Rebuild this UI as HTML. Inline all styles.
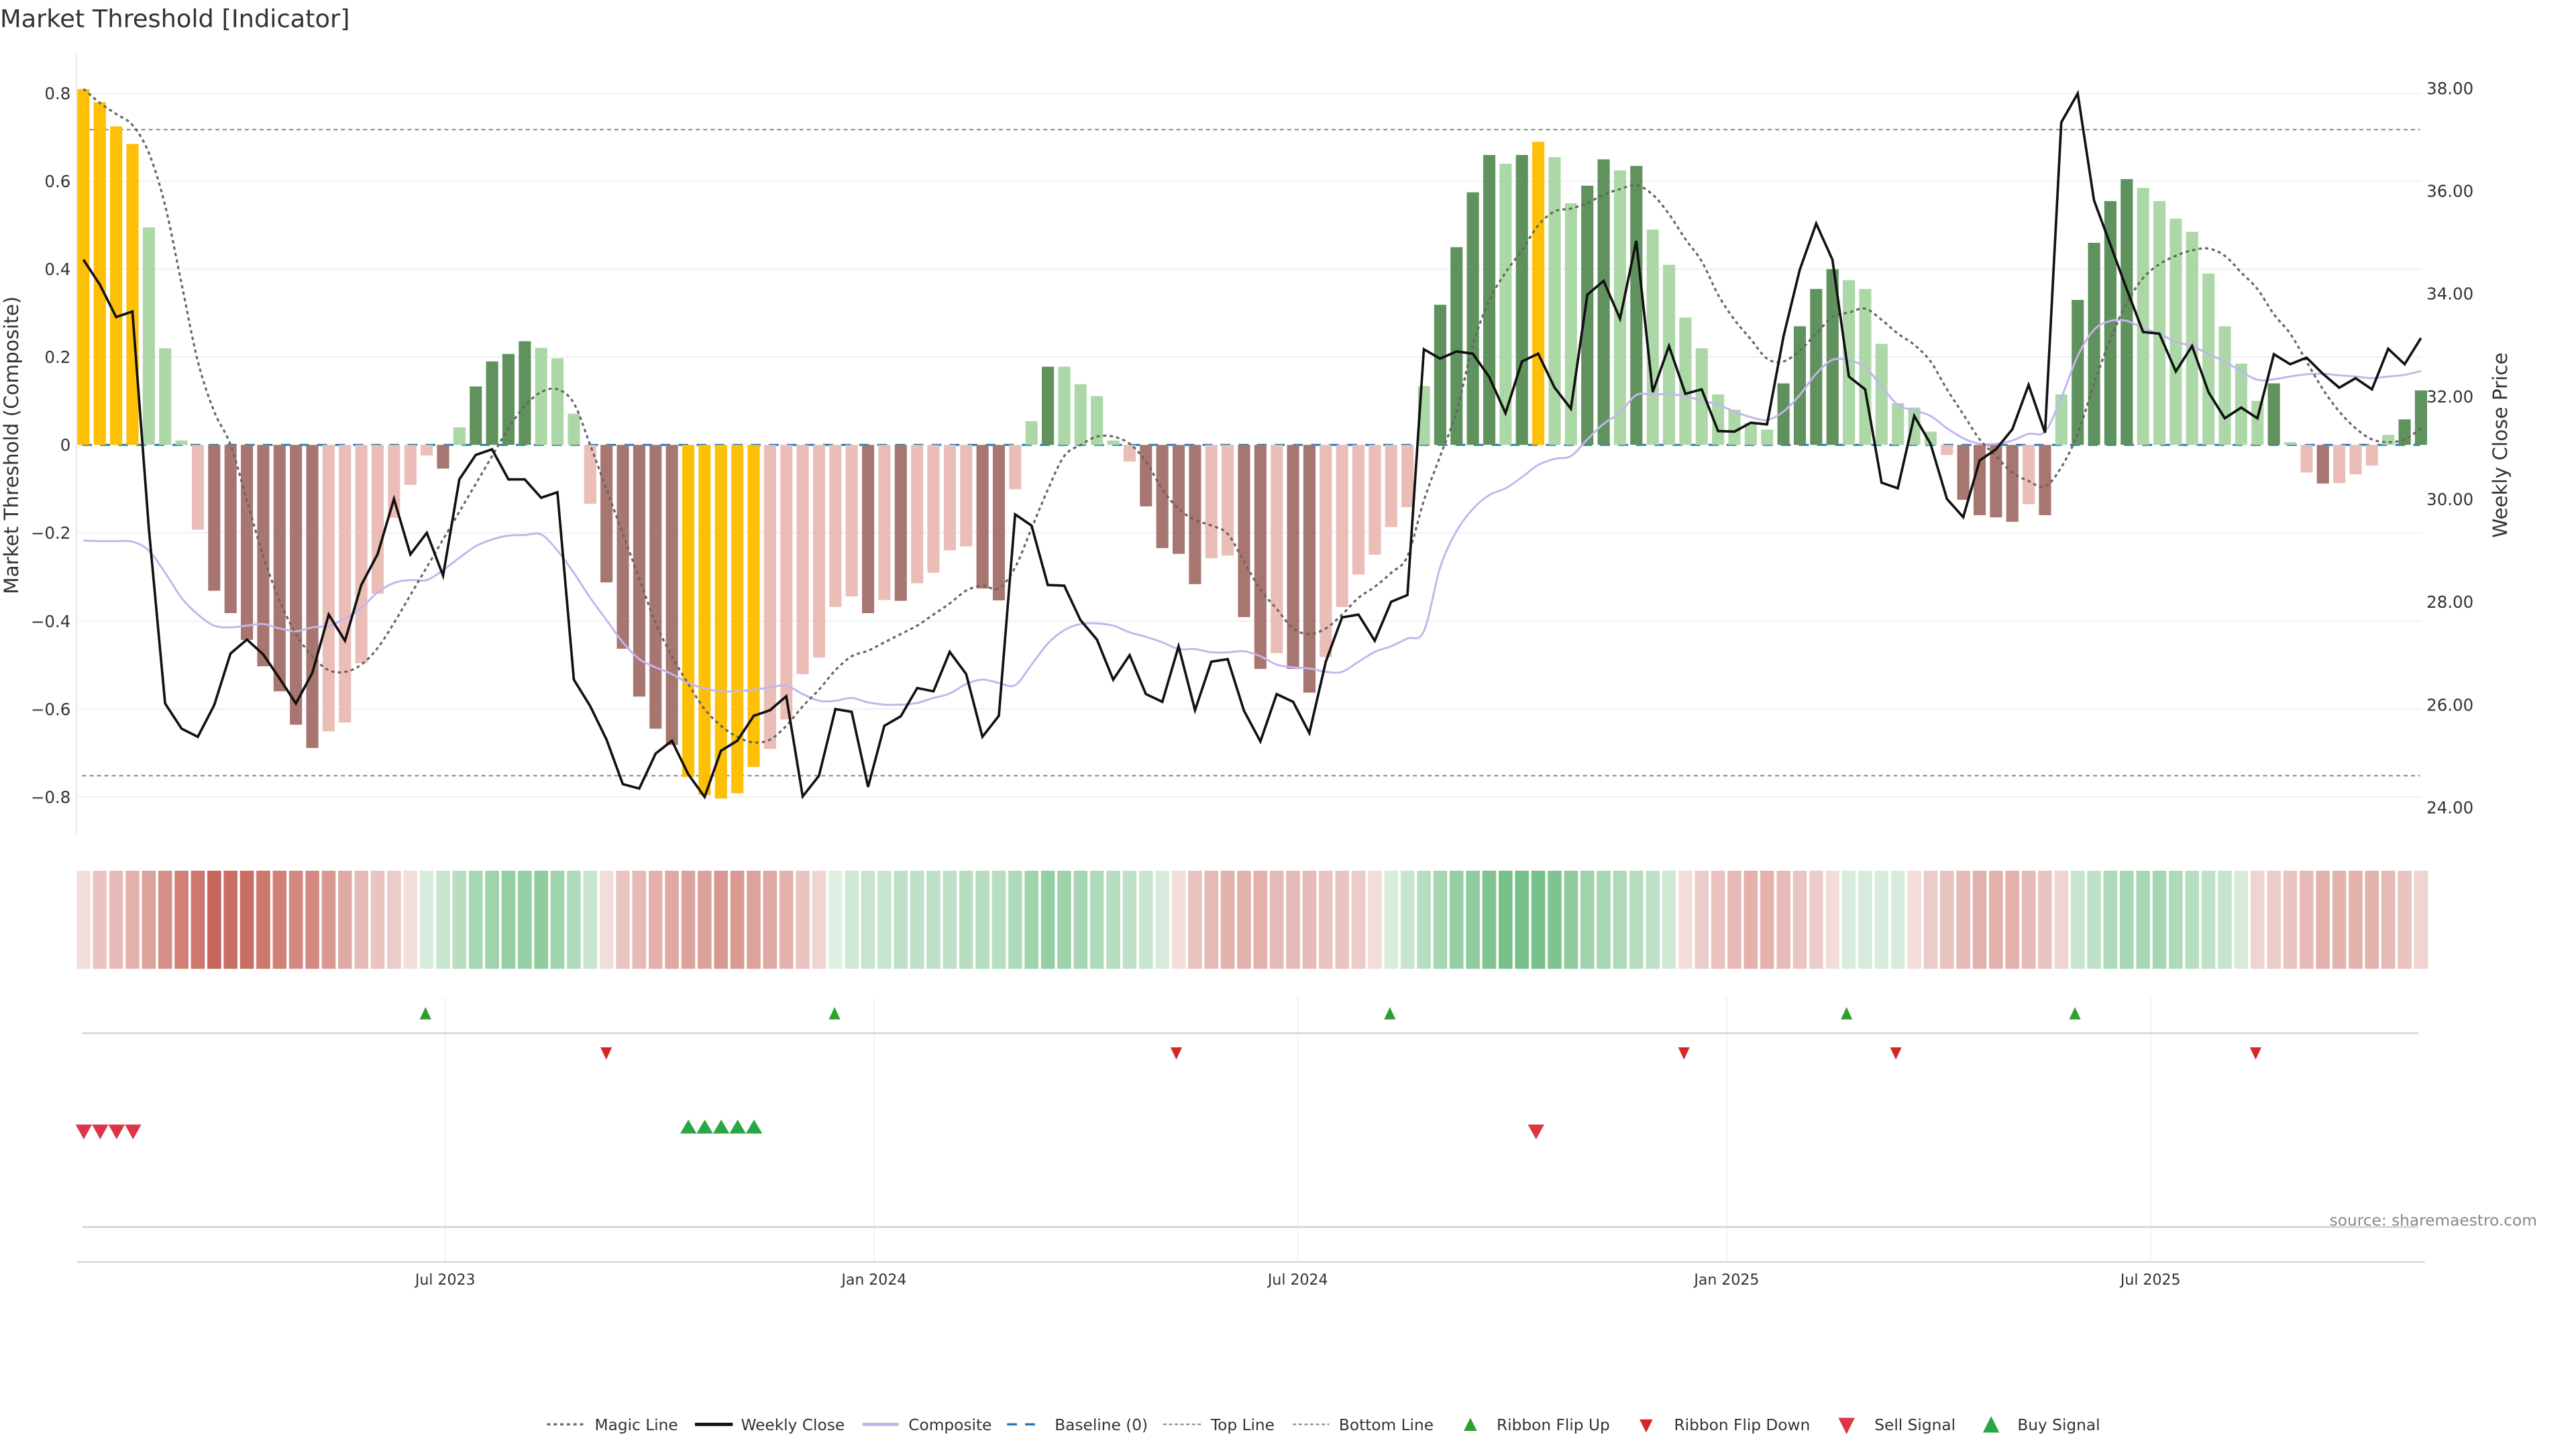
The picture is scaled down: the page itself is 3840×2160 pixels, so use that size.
<!DOCTYPE html>
<html><head><meta charset="utf-8"><style>
html,body{margin:0;padding:0;background:#fff;}
svg{display:block;font-family:"DejaVu Sans","Liberation Sans",sans-serif;}
</style></head><body>
<svg id="s" width="3840" height="2160" viewBox="0 0 1568 882" xmlns="http://www.w3.org/2000/svg">
<rect width="1568" height="882" fill="#fff"/>
<text x="0" y="16.5" font-size="15" fill="#333">Market Threshold [Indicator]</text>
<g id="grid" stroke="#edf0f5" stroke-width="0.8">
<line x1="47" x2="1474" y1="56.9" y2="56.9"/><line x1="47" x2="1474" y1="110.4" y2="110.4"/>
<line x1="47" x2="1474" y1="163.8" y2="163.8"/><line x1="47" x2="1474" y1="217.3" y2="217.3"/>
<line x1="47" x2="1474" y1="324.3" y2="324.3"/><line x1="47" x2="1474" y1="378.1" y2="378.1"/>
<line x1="47" x2="1474" y1="431.6" y2="431.6"/><line x1="47" x2="1474" y1="485.1" y2="485.1"/>
</g>
<line x1="46.5" x2="46.5" y1="32" y2="508" stroke="#e6e6e6" stroke-width="0.8"/>
<g font-size="10" fill="#333" text-anchor="end">
<text x="43" y="60.5">0.8</text><text x="43" y="114">0.6</text><text x="43" y="167.4">0.4</text>
<text x="43" y="220.9">0.2</text><text x="43" y="274.4">0</text><text x="43" y="327.9">−0.2</text>
<text x="43" y="381.7">−0.4</text><text x="43" y="435.2">−0.6</text><text x="43" y="488.7">−0.8</text>
</g>
<text transform="translate(11,271) rotate(-90)" font-size="12" fill="#333" text-anchor="middle">Market Threshold (Composite)</text>
<g font-size="10" fill="#333">
<text x="1477" y="57.3">38.00</text><text x="1477" y="119.9">36.00</text><text x="1477" y="182.4">34.00</text>
<text x="1477" y="245">32.00</text><text x="1477" y="307.5">30.00</text><text x="1477" y="370">28.00</text>
<text x="1477" y="432.7">26.00</text><text x="1477" y="495.2">24.00</text>
</g>
<text transform="translate(1526,271) rotate(-90)" font-size="12" fill="#333" text-anchor="middle">Weekly Close Price</text>
<line x1="50" x2="1473" y1="270.8" y2="270.8" stroke="#1f77b4" stroke-width="1.2" stroke-dasharray="6,5"/>
<line x1="50" x2="1473" y1="78.9" y2="78.9" stroke="#888" stroke-width="0.8" stroke-dasharray="2.5,2"/>
<line x1="50" x2="1473" y1="472.2" y2="472.2" stroke="#888" stroke-width="0.8" stroke-dasharray="2.5,2"/>
<g id="bars"></g>
<g id="lines"></g>
<g id="ribbon"></g>
<g stroke="#f1f1f1" stroke-width="0.8">
<line x1="271" x2="271" y1="607" y2="768"/><line x1="532" x2="532" y1="607" y2="768"/>
<line x1="790" x2="790" y1="607" y2="768"/><line x1="1051" x2="1051" y1="607" y2="768"/>
<line x1="1309" x2="1309" y1="607" y2="768"/>
</g>
<line x1="50" x2="1472" y1="628.9" y2="628.9" stroke="#d0d0d0" stroke-width="1"/>
<line x1="50" x2="1472" y1="746.9" y2="746.9" stroke="#d0d0d0" stroke-width="1"/>
<line x1="47" x2="1476" y1="768.1" y2="768.1" stroke="#d6d6d6" stroke-width="1"/>
<g id="sig"></g>
<g font-size="9" fill="#333" text-anchor="middle">
<text x="271" y="782">Jul 2023</text><text x="532" y="782">Jan 2024</text><text x="790" y="782">Jul 2024</text>
<text x="1051" y="782">Jan 2025</text><text x="1309" y="782">Jul 2025</text>
</g>
<text x="1418" y="746" font-size="9.5" fill="#888">source: sharemaestro.com</text>
<g font-size="9.5" fill="#333">
<line x1="333" x2="355" y1="867" y2="867" stroke="#666" stroke-width="1.3" stroke-dasharray="2,2"/>
<text x="362" y="870.5">Magic Line</text>
<line x1="423" x2="446" y1="867" y2="867" stroke="#111" stroke-width="2"/>
<text x="451" y="870.5">Weekly Close</text>
<line x1="525" x2="547" y1="867" y2="867" stroke="#c4b5ec" stroke-width="2"/>
<text x="553" y="870.5">Composite</text>
<line x1="613" x2="635" y1="867" y2="867" stroke="#1f77b4" stroke-width="1.3" stroke-dasharray="6,5"/>
<text x="642" y="870.5">Baseline (0)</text>
<line x1="708" x2="731" y1="867" y2="867" stroke="#888" stroke-width="0.9" stroke-dasharray="2,1.5"/>
<text x="737" y="870.5">Top Line</text>
<line x1="787" x2="809" y1="867" y2="867" stroke="#888" stroke-width="0.9" stroke-dasharray="2,1.5"/>
<text x="815" y="870.5">Bottom Line</text>
<polygon points="891,871 899,871 895,863" fill="#2ca02c"/>
<text x="911" y="870.5">Ribbon Flip Up</text>
<polygon points="998,864 1006,864 1002,872" fill="#d62728"/>
<text x="1019" y="870.5">Ribbon Flip Down</text>
<polygon points="1119,863 1129,863 1124,873" fill="#dc3545"/>
<text x="1141" y="870.5">Sell Signal</text>
<polygon points="1207,872 1217,872 1212,862" fill="#28a745"/>
<text x="1228" y="870.5">Buy Signal</text>
</g>
</svg>
<script>
(function(){
var NS="http://www.w3.org/2000/svg";
function el(p,t,a){var e=document.createElementNS(NS,t);for(var k in a)e.setAttribute(k,a[k]);p.appendChild(e);return e;}
var vals=[.81,.78,.725,.685,.495,.22,.01,-.193,-.332,-.383,-.444,-.504,-.561,-.637,-.69,-.652,-.632,-.497,-.339,-.166,-.091,-.024,-.054,.04,.133,.19,.207,.236,.221,.197,.071,-.134,-.313,-.464,-.573,-.646,-.683,-.756,-.797,-.805,-.793,-.733,-.692,-.625,-.522,-.484,-.369,-.345,
-.383,-.353,-.355,-.315,-.291,-.24,-.231,-.327,-.354,-.101,.054,.178,.178,.138,.111,.01,-.038,-.14,-.235,-.248,-.317,-.258,-.252,-.392,-.51,-.474,-.51,-.564,-.483,-.369,-.295,-.25,-.187,-.142,.134,.319,
.45,.575,.66,.64,.66,.69,.655,.55,.59,.65,.625,.635,.49,.41,.29,.22,.115,.08,.05,.035,.14,.27,.355,.40,.375,.355,.23,.095,.085,.03,-.023,-.125,-.16,-.165,-.175,-.135,-.16,
.115,.33,.46,.555,.605,.585,.555,.515,.485,.39,.27,.185,.10,.14,.006,-.063,-.088,-.087,-.067,-.047,.023,.058,.124];
var cols="GGGGLLLPBBBBBBBPPPPPPPBLDDDDLLLPBBBBBGGGGGPPPPPP"+"BPBPPPPBBPLDLLLLPBBBBPPBBPBBPPPPPPLD"+"DDDLDGLLDDLDLLLLLLLLDDDDLLLLLLPBBBBPB"+"LDDDDLLLLLLLLDLPBPPPLDD";
var cmap={G:"#fdc006",L:"#acd8a8",D:"#5f925d",P:"#ebbdb7",B:"#a87670"};
function X(i){return 50.8+9.95*i;}
var bars=document.getElementById("bars");
for(var i=0;i<vals.length;i++){var v=vals[i],y0=270.8,y1=270.8-v*267.4;
el(bars,"rect",{x:X(i)-3.7,y:Math.min(y0,y1),width:7.4,height:Math.max(0.6,Math.abs(y1-y0)),fill:cmap[cols[i]]});}
var blk=[467,512,570,560,950,1265,1310,1325,1268,1175,1150,1177,1220,1265,1210,1105,1152,1052,996,897,997,958,1035,862,818,808,862,862,895,885,1222,1270,1330,1410,1418,1355,1332,1392,1433,1350,1332,1287,1277,1252,1432,1395,1275,1280,1415,
1305,1288,1237,1243,1172,1212,1325,1287,925,945,1052,1053,1115,1150,1222,1178,1248,1262,1162,1277,1190,1185,1278,1333,1248,1262,1318,1190,1110,1105,1152,1082,1070,628,645,632,
636,678,743,650,636,697,735,530,505,573,433,705,622,708,700,775,776,760,763,605,485,402,467,677,700,868,878,748,798,897,930,828,808,772,692,778,
220,168,360,440,520,597,600,668,622,705,752,733,752,637,655,643,672,697,680,700,627,655,608];
var comp=[972,973,973,974,990,1030,1075,1105,1125,1128,1125,1122,1130,1135,1128,1125,1112,1093,1065,1048,1043,1043,1025,1003,982,970,963,962,961,990,1030,1075,1115,1155,1185,1200,1212,1228,1238,1243,1243,1240,1236,1233,1248,1260,1260,1255,1263,
1267,1267,1264,1255,1247,1230,1222,1228,1232,1195,1157,1133,1122,1121,1125,1137,1145,1155,1167,1167,1173,1173,1171,1180,1195,1200,1202,1208,1208,1190,1172,1162,1148,1135,1020,955,
915,890,878,858,836,825,820,790,762,742,710,710,708,713,720,728,740,750,755,740,710,672,647,648,660,695,728,738,748,770,788,798,798,792,780,776,
715,640,593,577,577,590,600,615,622,637,650,668,683,682,677,673,672,675,677,680,677,674,667];
var mag=[160,185,205,225,275,370,510,650,740,800,900,1000,1080,1140,1180,1205,1208,1195,1165,1120,1070,1020,970,920,870,820,770,730,705,700,725,800,880,960,1040,1120,1180,1230,1275,1305,1325,1335,1330,1305,1270,1240,1205,1180,1170,
1155,1140,1125,1105,1085,1062,1053,1058,1020,950,880,820,800,785,785,798,830,880,915,935,945,960,1010,1060,1095,1130,1140,1130,1105,1075,1055,1030,1000,900,820,740,
620,540,490,450,405,380,375,365,350,340,333,350,385,430,470,530,575,610,645,650,630,600,570,562,555,575,600,620,650,700,745,790,820,850,865,875,
840,780,690,610,545,500,475,460,450,447,460,490,520,565,600,650,700,740,770,790,795,790,770];
function pts(a){var s=[];for(var i=0;i<a.length;i++)s.push(X(i).toFixed(1)+","+(a[i]/2.954).toFixed(1));return s.join(" ");}
var lines=document.getElementById("lines");
function smooth(a){var p=[];for(var i=0;i<a.length;i++)p.push([X(i),a[i]/2.954]);var d="M"+p[0][0]+","+p[0][1];
for(var i=0;i<p.length-1;i++){var p0=p[Math.max(0,i-1)],p1=p[i],p2=p[i+1],p3=p[Math.min(p.length-1,i+2)];
d+=" C"+(p1[0]+(p2[0]-p0[0])/6).toFixed(2)+","+(p1[1]+(p2[1]-p0[1])/6).toFixed(2)+" "+(p2[0]-(p3[0]-p1[0])/6).toFixed(2)+","+(p2[1]-(p3[1]-p1[1])/6).toFixed(2)+" "+p2[0].toFixed(2)+","+p2[1].toFixed(2);}return d;}
el(lines,"path",{d:smooth(comp),fill:"none",stroke:"#c4b5ec","stroke-width":1.2});
el(lines,"path",{d:smooth(mag),fill:"none",stroke:"#666","stroke-width":1.3,"stroke-dasharray":"2,2"});
el(lines,"polyline",{points:pts(blk),fill:"none",stroke:"#111","stroke-width":1.5,"stroke-linejoin":"miter"});
var rib=[[.2,.35,.4,.45,.55,.65,.75,.8,.9,.85,.85,.8,.75,.7,.7,.6,.5,.4,.35,.3,.2],
[.25,.35,.45,.55,.6,.65,.65,.7,.6,.5,.35],
[.2,.35,.4,.45,.5,.55,.55,.6,.6,.55,.5,.45,.35,.25],
[.2,.3,.35,.35,.4,.4,.4,.4,.45,.45,.45,.5,.6,.65,.6,.55,.5,.45,.4,.35,.25],
[.2,.35,.4,.45,.45,.45,.4,.4,.4,.35,.35,.3,.2],
[.25,.35,.45,.55,.65,.7,.8,.85,.85,.85,.8,.7,.6,.55,.5,.45,.4,.3],
[.2,.3,.35,.4,.45,.45,.4,.35,.3,.2],
[.25,.25,.25,.25],
[.2,.3,.35,.4,.45,.45,.45,.4,.35,.25],
[.35,.4,.5,.55,.55,.55,.5,.45,.4,.35,.25],
[.25,.3,.35,.4,.45,.45,.45,.45,.4,.35,.25]];
var ribg=document.getElementById("ribbon");var k=0;
for(var s=0;s<rib.length;s++){var red=(s%2==0);for(var j=0;j<rib[s].length;j++){
el(ribg,"rect",{x:X(k)-4.2,y:530,width:8.4,height:59.7,fill:red?"#c0554a":"#5fb574","fill-opacity":rib[s][j]});k++;}}
var sig=document.getElementById("sig");
[259,508,846,1124,1263].forEach(function(x){el(sig,"polygon",{points:(x-3.5)+",620.5 "+(x+3.5)+",620.5 "+x+",613",fill:"#2ca02c"});});
[369,716,1025,1154,1373].forEach(function(x){el(sig,"polygon",{points:(x-3.5)+",637.5 "+(x+3.5)+",637.5 "+x+",645",fill:"#d62728"});});
[51,61,71,81,935].forEach(function(x){el(sig,"polygon",{points:(x-5)+",684.5 "+(x+5)+",684.5 "+x+",693.5",fill:"#dc3545"});});
[419,429,439,449,459].forEach(function(x){el(sig,"polygon",{points:(x-5)+",690 "+(x+5)+",690 "+x+",681.5",fill:"#28a745"});});
})();
</script>
</body></html>
